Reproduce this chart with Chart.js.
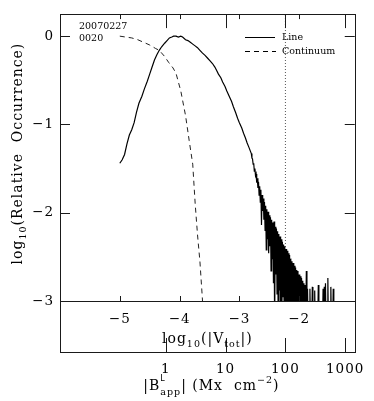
<!DOCTYPE html>
<html><head><meta charset="utf-8">
<script src="https://cdn.jsdelivr.net/npm/chart.js@4/dist/chart.umd.min.js"></script>
<style>html,body{margin:0;padding:0;background:#fff}canvas{display:block}</style>
</head><body>
<canvas id="c" width="374" height="401"></canvas>
<script>
// ---- data ----
const lineX = [-5.00,-4.96,-4.92,-4.88,-4.84,-4.80,-4.76,-4.72,-4.68,-4.63,-4.59,-4.54,-4.50,-4.46,-4.42,-4.38,-4.34,-4.30,-4.25,-4.21,-4.17,-4.13,-4.10,-4.06,-4.02,-3.98,-3.95,-3.90,-3.86,-3.82,-3.78,-3.74,-3.70,-3.66,-3.62,-3.57,-3.53,-3.49,-3.45,-3.41,-3.38,-3.35,-3.31,-3.28,-3.24,-3.21,-3.17,-3.13,-3.10,-3.06,-3.03,-3.00,-2.96,-2.93,-2.90,-2.87,-2.84,
  -2.80,-2.79,-2.78,-2.77,-2.76,-2.75,-2.74,-2.73,-2.72,-2.71,-2.70,-2.69,-2.68,-2.67,-2.66,-2.65,-2.64,-2.63,-2.62,-2.61,-2.60,-2.59,-2.58,-2.57,-2.56,-2.55,-2.54,-2.53,-2.52,-2.51,-2.50,-2.49,-2.48,-2.47,-2.46,-2.45,-2.44,-2.43,-2.42,-2.41,-2.40,-2.39,-2.38,-2.37,-2.36,-2.35,-2.34,-2.33,-2.32,-2.31,-2.30,-2.29,-2.28,-2.27,-2.26,-2.25,-2.24,-2.23,-2.22,-2.21,-2.20,-2.19,-2.18,-2.17,-2.16,-2.15,-2.14,-2.13,-2.12,-2.11,-2.10,-2.09,-2.08,-2.07,-2.06,-2.05,-2.04,-2.03,-2.02,-2.01,-2.00,-1.99,-1.98,-1.97,-1.96,-1.95,-1.94,-1.93,-1.92,-1.91,-1.90,-1.89,-1.88,-1.87,-1.86,-1.85,
  -1.83,-1.82,-1.81,-1.79,-1.78,-1.77,-1.75,-1.74,-1.73,-1.69,-1.68,-1.67,-1.61,-1.60,-1.59,-1.58,-1.57,-1.56,-1.55,-1.53,-1.52,-1.51,-1.48,-1.47,-1.46,-1.44,-1.43,-1.42];
const lineY = [-1.44,-1.40,-1.34,-1.22,-1.12,-1.06,-0.98,-0.86,-0.76,-0.68,-0.60,-0.51,-0.43,-0.35,-0.27,-0.21,-0.16,-0.12,-0.08,-0.05,-0.02,-0.01,0.00,0.00,-0.01,0.00,-0.01,-0.04,-0.05,-0.07,-0.09,-0.11,-0.13,-0.16,-0.19,-0.22,-0.25,-0.28,-0.31,-0.35,-0.39,-0.43,-0.47,-0.52,-0.57,-0.62,-0.68,-0.74,-0.80,-0.87,-0.93,-0.98,-1.04,-1.10,-1.15,-1.21,-1.26,
  -1.33,-1.38,-1.39,-1.45,-1.44,-1.53,-1.50,-1.58,-1.56,-1.66,-1.61,-1.72,-1.65,-1.80,-1.70,-1.88,-1.74,-2.14,-1.80,-1.98,-1.84,-2.08,-1.88,-2.20,-1.92,-2.42,-1.96,-2.30,-1.99,-2.46,-2.03,-2.38,-2.05,-2.66,-2.08,-2.52,-2.11,-2.80,-2.10,-3.30,-2.16,-2.70,-2.18,-2.92,-2.21,-3.30,-2.24,-2.88,-2.27,-3.30,-2.30,-3.30,-2.33,-2.95,-2.36,-3.30,-2.38,-3.30,-2.41,-3.30,-2.43,-3.30,-2.46,-3.30,-2.48,-3.30,-2.52,-3.30,-2.55,-3.30,-2.57,-3.30,-2.60,-3.30,-2.62,-3.30,-2.65,-3.30,-2.66,-3.30,-2.70,-3.30,-2.72,-3.30,-2.74,-3.30,-2.77,-3.30,-2.80,-3.30,-2.82,-3.30,-2.66,-3.30,-2.86,-3.30,
  -3.30,-2.86,-3.30,-3.30,-2.84,-3.30,-3.30,-2.88,-3.30,-3.30,-2.82,-3.30,-3.30,-2.86,-3.30,-2.84,-3.30,-2.80,-3.30,-3.30,-2.74,-3.30,-3.30,-2.84,-3.30,-3.30,-2.86,-3.30];
const contX = [-5.00,-4.90,-4.80,-4.70,-4.60,-4.50,-4.40,-4.34,-4.25,-4.18,-4.11,-4.06,-3.98,-3.90,-3.84,-3.78,-3.74,-3.70,-3.66,-3.62,-3.59];
const contY = [0.00,-0.01,-0.02,-0.04,-0.07,-0.10,-0.14,-0.16,-0.23,-0.30,-0.36,-0.42,-0.62,-0.90,-1.18,-1.45,-1.89,-2.25,-2.55,-2.96,-3.30];
const yTicks = [0, -1, -2, -3];
const vTicks = [-5, -4, -3, -2];          // log10(|V_tot|)
const bTicks = [1, 10, 100, 1000];        // |B_app| (Mx cm^-2)
const bMarker = 100;
const B_OFFSET = 4.23;                    // log10 B = log10 V + offset
const dateLabel = ['20070227', '0020'];
const seriesNames = ['Line', 'Continuum'];

const FONT = 'DejaVu Serif';
const TICK_SIZE = 13.5;
const LS = '1px';
const fmt = v => v === 0 ? '0' : (v < 0 ? '\u2212' + Math.abs(v) : String(v));

function drawRich(ctx, segs, x, y, align) {
  let w = 0;
  for (const s of segs) { ctx.font = s.size + 'px ' + (s.fam || FONT); if (!s.stack) w += ctx.measureText(s.t).width; }
  let cx = align === 'center' ? x - w / 2 : x;
  for (const s of segs) {
    ctx.font = s.size + 'px ' + (s.fam || FONT);
    ctx.fillText(s.t, cx, y + (s.dy || 0));
    if (!s.stack) cx += ctx.measureText(s.t).width;
  }
}

const frame = {
  id: 'frame',
  beforeUpdate(c) { c.ctx.letterSpacing = LS; },
  beforeDraw(c) { c.ctx.letterSpacing = LS; },
  afterDraw(c) {
    const ctx = c.ctx, a = c.chartArea, xs = c.scales.x, xb = c.scales.xB, ys = c.scales.y;
    const L = a.left, R = a.right, T = a.top, M = a.bottom, B = xs.bottom;
    const p = v => Math.round(v) + 0.5;
    ctx.save();
    ctx.strokeStyle = '#1a1a1a'; ctx.lineWidth = 1;
    const seg = (x1, y1, x2, y2) => { ctx.beginPath(); ctx.moveTo(x1, y1); ctx.lineTo(x2, y2); ctx.stroke(); };
    seg(p(L), T, p(L), B + 1); seg(p(R), T, p(R), B + 1);
    seg(L, p(T), R + 1, p(T)); seg(L, p(M), R + 1, p(M)); seg(L, p(B), R + 1, p(B));
    for (const v of yTicks) { const yy = p(ys.getPixelForValue(v)); seg(L, yy, L + 10, yy); seg(R - 10, yy, R, yy); }
    for (const v of vTicks) { const xx = p(xs.getPixelForValue(v)); seg(xx, T, xx, T + 5); seg(xx, M, xx, M - 5); }
    for (const v of bTicks) { const xx = p(xb.getPixelForValue(v)); seg(xx, T, xx, T + 14); seg(xx, B, xx, B - 14); }
    // text
    ctx.fillStyle = '#000'; ctx.textBaseline = 'alphabetic'; ctx.textAlign = 'left';
    ctx.letterSpacing = LS;
    // x (log V) title
    drawRich(ctx, [{t:'log',size:14},{t:'10',size:9.5,dy:4},{t:'(|V',size:14},{t:'tot',size:9.5,dy:4},{t:'|)',size:14}], (L + R) / 2, 343, 'center');
    // B title
    drawRich(ctx, [{t:'|B',size:14},{t:'L',size:8,dy:-9,stack:true,fam:'DejaVu Sans'},{t:'app',size:9.5,dy:5},{t:'| (Mx  cm',size:14},{t:'\u22122',size:9.5,dy:-7},{t:')',size:14}], (L + R) / 2 + 4, 390, 'center');
    // y title
    ctx.save();
    ctx.translate(22, (T + M) / 2 - 4);
    ctx.rotate(-Math.PI / 2);
    drawRich(ctx, [{t:'log',size:14},{t:'10',size:9.5,dy:4},{t:'(Relative  Occurrence)',size:14}], 0, 0, 'center');
    ctx.restore();
    // date label
    ctx.letterSpacing = '0px';
    ctx.font = '9.5px ' + FONT;
    ctx.fillText(dateLabel[0], 79, 29);
    ctx.fillText(dateLabel[1], 79, 41);
    // legend
    ctx.strokeStyle = '#000';
    seg(245, 37.5, 275, 37.5);
    ctx.setLineDash([5, 4]); seg(245, 51.5, 276, 51.5); ctx.setLineDash([]);
    ctx.fillText(seriesNames[0], 282, 40);
    ctx.fillText(seriesNames[1], 282, 54);
    ctx.restore();
  }
};

const pts = (xs, ys) => xs.map((x, i) => ({ x, y: ys[i] }));
new Chart(document.getElementById('c'), {
  type: 'line',
  data: { datasets: [
    { label: seriesNames[0], data: pts(lineX, lineY), borderColor: '#000', borderWidth: 1.2, pointRadius: 0, tension: 0, xAxisID: 'x', yAxisID: 'y' },
    { label: seriesNames[1], data: pts(contX, contY), borderColor: '#222', borderWidth: 1, borderDash: [5, 4], pointRadius: 0, tension: 0, xAxisID: 'x', yAxisID: 'y' },
    { label: 'marker', data: [{ x: bMarker, y: -3 }, { x: bMarker, y: 0.25 }], borderColor: '#555', borderWidth: 1, borderDash: [1, 2], pointRadius: 0, xAxisID: 'xB', yAxisID: 'y' }
  ] },
  options: {
    responsive: false, animation: false, devicePixelRatio: 1,
    layout: { padding: { top: 5, right: 10, left: 0, bottom: 0 } },
    plugins: { legend: { display: false }, tooltip: { enabled: false } },
    scales: {
      x: { type: 'linear', position: 'bottom', weight: 0, min: -6.0, max: -1.07,
        afterBuildTicks: s => { s.ticks = vTicks.map(v => ({ value: v })); },
        afterFit: s => { s.height = 51; },
        grid: { display: false, drawTicks: false }, border: { display: false },
        ticks: { color: '#000', font: { family: FONT, size: TICK_SIZE }, padding: 10, maxRotation: 0, autoSkip: false, callback: v => fmt(v) } },
      xB: { type: 'logarithmic', position: 'bottom', weight: 1, min: Math.pow(10, -6.0 + B_OFFSET), max: Math.pow(10, -1.07 + B_OFFSET),
        afterBuildTicks: s => { s.ticks = bTicks.map(v => ({ value: v })); },
        afterFit: s => { s.height = 49; },
        grid: { display: false, drawTicks: false }, border: { display: false },
        ticks: { color: '#000', font: { family: FONT, size: TICK_SIZE }, padding: 9, maxRotation: 0, autoSkip: false, callback: v => String(v) } },
      y: { type: 'linear', position: 'left', min: -3, max: 0.25,
        afterBuildTicks: s => { s.ticks = yTicks.map(v => ({ value: v })); },
        afterFit: s => { s.width = 60; },
        grid: { display: false, drawTicks: false }, border: { display: false },
        ticks: { color: '#000', font: { family: FONT, size: TICK_SIZE }, padding: 6, callback: v => fmt(v) } }
    }
  },
  plugins: [frame]
});
</script>
</body></html>
